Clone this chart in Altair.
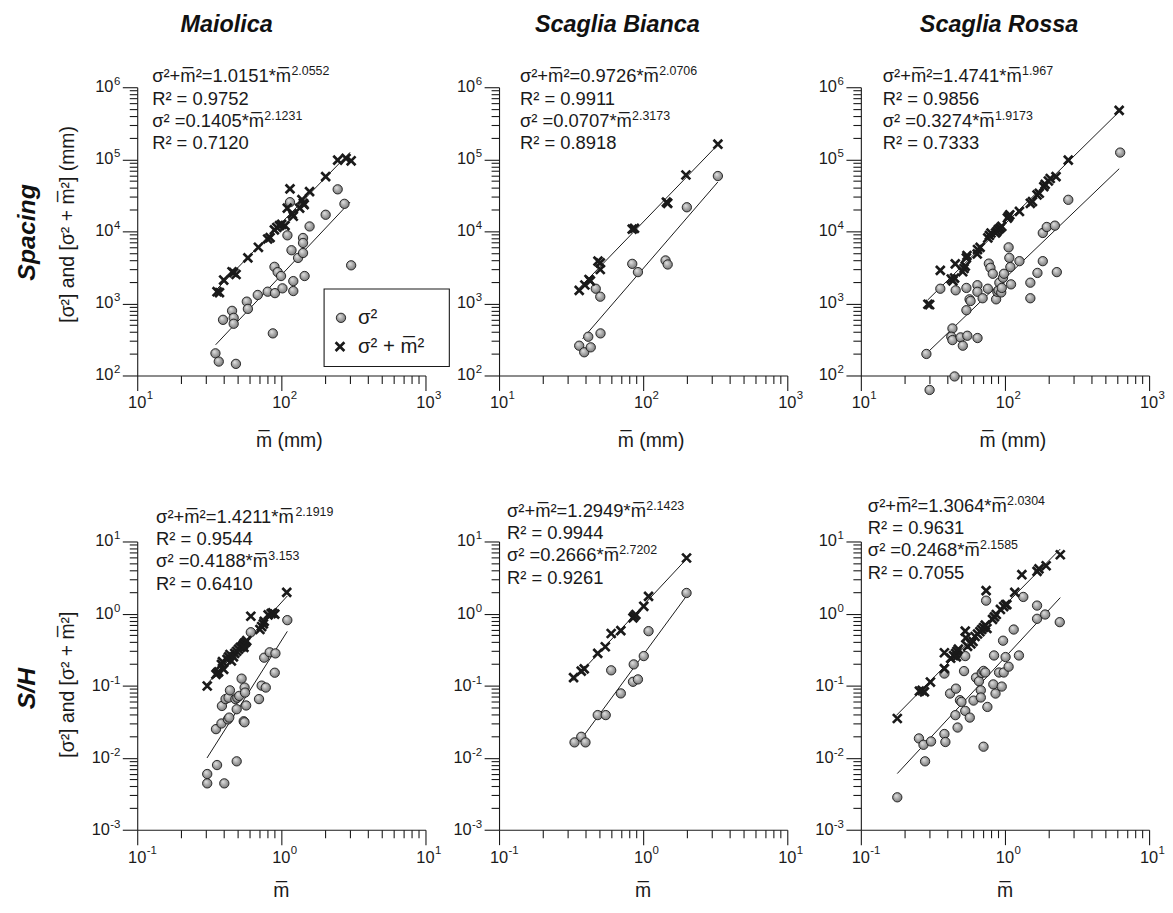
import altair as alt
import pandas as pd

FONT = "Liberation Sans"
INK = "#1a1a1a"
MB = "m\u0305"

# ---------------- data ----------------
# Maiolica – spacing (mm)
p1_sig_m = [34.9, 36.8, 48.4, 39.4, 45.5, 46.7, 46.7, 57.6, 58.6, 68.6, 80.4, 89.6, 94.3, 99.5, 90.3, 101.8, 87.3, 110.2, 114.8, 117.6,
            121, 121, 130.6, 141.4, 141.4, 141.4, 145, 157, 203, 246, 274, 305]
p1_sig_v = [203, 156, 145, 592, 789, 631, 522, 1059, 840, 1310, 1455, 3220, 2720, 2400, 1390, 1620, 384, 8810, 25400, 5470,
            2040, 1486, 4280, 8090, 6900, 5010, 2400, 11700, 17000, 38300, 24100, 3380]
p1_tot_m = [35.8, 37.2, 39.8, 45.5, 46.7, 48.5, 58.6, 69.3, 80.4, 83.5, 89.5, 93, 97, 100.5, 106, 114.8, 110, 119, 121, 134,
            139, 142, 144, 157, 203, 246, 281, 305]
p1_tot_v = [1455, 1410, 2110, 2750, 2680, 2520, 4285, 6010, 7830, 8200, 10500, 11300, 12000, 12500, 12000, 38800, 21000, 17400, 16200, 21000,
            27500, 24500, 23500, 35600, 57400, 97500, 103000, 95300]

# Scaglia Bianca – spacing (mm)
p2_sig_m = [36, 39.0, 41.6, 43.3, 50.6, 46.9, 50.4, 84, 92, 143, 148, 201, 330]
p2_sig_v = [259, 210, 345, 246, 384, 1600, 1240, 3540, 2720, 3950, 3470, 21600, 58600]
p2_tot_m = [36, 39.4, 42.1, 43, 48.6, 50.4, 50.4, 84, 87, 145, 148, 198, 330]
p2_tot_v = [1520, 1800, 2150, 2050, 3860, 3660, 2960, 10760, 11000, 25400, 24500, 60500, 162000]

# Scaglia Rossa – spacing (mm)
p3_sig_m = [28.5, 30, 35.6, 44.7, 43.2, 42.4, 43.2, 45.5, 49.2, 51, 54, 54.8, 54, 56.8, 57.7, 64.4, 64.4, 64.5, 70, 77.3,
            79.3, 76.1, 82.3, 86.8, 88.5, 90.2, 91.4, 94.2, 95, 96.9, 98.4, 106, 107.2, 109, 110.2, 126, 150, 150, 168, 183,
            183, 195, 222, 229, 275, 630]
p3_sig_v = [199, 63, 1600, 97, 449, 345, 310, 1520, 338, 259, 1640, 356, 805, 1140, 1080, 1790, 1450, 331, 1180, 3570,
            3120, 1600, 2580, 1140, 1450, 1520, 1940, 1420, 1640, 2270, 2580, 6000, 4290, 3200, 1840, 3860, 1940, 1180, 2650, 3860,
            9500, 11500, 12000, 2720, 27400, 124000]
p3_tot_m = [29.2, 30, 35.6, 42.4, 43.5, 44.7, 45.2, 50.9, 52, 53.0, 54.0, 54.5, 64.2, 64.5, 67.2, 76, 78, 80, 86, 88,
            90, 92.5, 95, 104, 106, 108, 126, 150, 155, 167, 173, 186, 190, 200, 206, 226, 275, 620]
p3_tot_v = [975, 960, 2870, 2180, 2060, 2250, 3540, 2750, 3050, 3290, 4290, 4620, 4860, 5590, 6000, 8100, 8800, 9500, 9500, 10000,
            10600, 11100, 11700, 15300, 16100, 17000, 18900, 24500, 25900, 32000, 33800, 41800, 44800, 50000, 54200, 57400, 97500, 477000]

# Maiolica – S/H
p4_sig_m = [0.306, 0.306, 0.358, 0.402, 0.49, 0.352, 0.384, 0.426, 0.435, 0.387, 0.41, 0.43, 0.44, 0.48, 0.495, 0.51, 0.49, 0.53, 0.556, 0.56,
            0.57, 0.548, 0.555, 0.614, 0.70, 0.73, 0.78, 0.76, 0.83, 0.91, 0.90, 1.10]
p4_sig_v = [0.00593, 0.0044, 0.0079, 0.0044, 0.0089, 0.0249, 0.0298, 0.034, 0.036, 0.0522, 0.065, 0.068, 0.086, 0.065, 0.068, 0.072, 0.047, 0.125, 0.094, 0.080,
            0.053, 0.032, 0.031, 0.55, 0.065, 0.1, 0.094, 0.244, 0.29, 0.28, 0.151, 0.81]
p4_tot_m = [0.306, 0.352, 0.36, 0.367, 0.384, 0.39, 0.398, 0.42, 0.43, 0.44, 0.45, 0.465, 0.475, 0.49, 0.505, 0.52, 0.535, 0.545, 0.555, 0.565,
            0.575, 0.55, 0.614, 0.71, 0.73, 0.75, 0.76, 0.81, 0.85, 0.87, 0.90, 1.09]
p4_tot_v = [0.0987, 0.143, 0.15, 0.155, 0.197, 0.215, 0.168, 0.231, 0.25, 0.27, 0.22, 0.25, 0.28, 0.30, 0.32, 0.34, 0.35, 0.37, 0.39, 0.40,
            0.42, 0.34, 0.918, 0.60, 0.66, 0.72, 0.78, 0.96, 1.0, 1.02, 0.98, 1.97]

# Scaglia Bianca – S/H
p5_sig_m = [0.334, 0.372, 0.398, 0.484, 0.55, 0.70, 0.60, 0.85, 0.92, 0.86, 1.01, 1.09, 2.0]
p5_sig_v = [0.0163, 0.0195, 0.0163, 0.039, 0.039, 0.078, 0.163, 0.113, 0.122, 0.197, 0.257, 0.57, 1.93]
p5_tot_m = [0.329, 0.372, 0.39, 0.484, 0.546, 0.60, 0.70, 0.85, 0.87, 0.89, 1.01, 1.09, 2.0]
p5_tot_v = [0.129, 0.159, 0.171, 0.28, 0.346, 0.528, 0.58, 0.87, 0.92, 0.97, 1.26, 1.73, 5.9]

# Scaglia Rossa – S/H
p6_sig_m = [0.179, 0.253, 0.272, 0.279, 0.307, 0.38, 0.386, 0.38, 0.416, 0.457, 0.453, 0.469, 0.487, 0.499, 0.53, 0.52, 0.53, 0.57, 0.605, 0.63,
            0.66, 0.69, 0.71, 0.73, 0.68, 0.68, 0.755, 0.71, 0.74, 0.84, 0.83, 0.86, 0.91, 0.95, 0.97, 0.98, 1.01, 1.06, 1.15, 1.25,
            1.34, 1.67, 1.67, 1.9, 2.4]
p6_sig_v = [0.00282, 0.0185, 0.0151, 0.0089, 0.0168, 0.0213, 0.0165, 0.147, 0.0776, 0.0908, 0.0389, 0.0262, 0.0627, 0.0594, 0.257, 0.159, 0.0446, 0.036, 0.062, 0.129,
            0.115, 0.15, 0.16, 0.152, 0.0861, 0.0684, 0.0506, 0.0142, 1.51, 0.262, 0.104, 0.0776, 0.152, 0.097, 0.42, 0.152, 0.249, 0.183, 0.60, 0.262,
            1.70, 1.29, 0.845, 0.97, 0.76]
p6_tot_m = [0.179, 0.255, 0.266, 0.276, 0.304, 0.38, 0.38, 0.42, 0.44, 0.455, 0.465, 0.475, 0.46, 0.53, 0.535, 0.55, 0.58, 0.60, 0.62, 0.645,
            0.67, 0.69, 0.71, 0.73, 0.75, 0.74, 0.82, 0.845, 0.87, 0.93, 0.98, 1.01, 1.03, 1.17, 1.31, 1.67, 1.72, 1.93, 2.42]
p6_tot_v = [0.035, 0.084, 0.086, 0.082, 0.112, 0.172, 0.286, 0.24, 0.26, 0.28, 0.30, 0.32, 0.25, 0.57, 0.46, 0.35, 0.38, 0.41, 0.48, 0.52,
            0.56, 0.60, 0.64, 0.69, 0.62, 2.08, 0.83, 0.90, 0.97, 1.14, 1.25, 1.33, 1.33, 1.97, 3.46, 3.85, 4.16, 4.6, 6.55]

# fitted power laws (coefficients printed in the figure)
tot_a = ["1.0151", "0.9726", "1.4741", "1.4211", "1.2949", "1.3064"]
tot_b = ["2.0552", "2.0706", "1.967", "2.1919", "2.1423", "2.0304"]
tot_r2 = ["0.9752", "0.9911", "0.9856", "0.9544", "0.9944", "0.9631"]
sig_a = ["0.1405", "0.0707", "0.3274", "0.4188", "0.2666", "0.2468"]
sig_b = ["2.1231", "2.3173", "1.9173", "3.153", "2.7202", "2.1585"]
sig_r2 = ["0.7120", "0.8918", "0.7333", "0.6410", "0.9261", "0.7055"]
# x-extent of each fitted line
tot_x = [[35, 300], [36, 330], [29, 620], [0.305, 1.1], [0.325, 2.0], [0.176, 2.42]]
sig_x = [[35, 300], [38, 330], [28.5, 620], [0.305, 1.1], [0.37, 2.0], [0.179, 2.42]]

# axis decades
top_x_decades = [10, 100, 1000]
top_y_decades = [100, 1000, 10000, 100000, 1000000]
bot_x_decades = [0.1, 1, 10]
bot_y_decades = [0.001, 0.01, 0.1, 1, 10]

columns = ["Maiolica", "Scaglia Bianca", "Scaglia Rossa"]
rows = ["Spacing", "S/H"]
ytitles = ["[\u03c3\u00b2]  and [\u03c3\u00b2 + " + MB + "\u00b2]  (mm)", "[\u03c3\u00b2] and [\u03c3\u00b2 + " + MB + "\u00b2]"]
xtitles = [MB + " (mm)", MB]
legend_labels = ["\u03c3\u00b2", "\u03c3\u00b2 + " + MB + "\u00b2"]

sig_m = [p1_sig_m, p2_sig_m, p3_sig_m, p4_sig_m, p5_sig_m, p6_sig_m]
sig_v = [p1_sig_v, p2_sig_v, p3_sig_v, p4_sig_v, p5_sig_v, p6_sig_v]
tot_m = [p1_tot_m, p2_tot_m, p3_tot_m, p4_tot_m, p5_tot_m, p6_tot_m]
tot_v = [p1_tot_v, p2_tot_v, p3_tot_v, p4_tot_v, p5_tot_v, p6_tot_v]

# ---------------- styling ----------------
W, H = 290, 290
EQ_FS, EXP_FS = 18.5, 12.5
EQ_POS = [(15, -5), (21, -5), (22, -5), (19, -19), (8, -25), (7, -30)]
LINE_H = 22.5
LAB_FS, LAB_EXP_FS = 16.5, 11.5

AW = {'0': .556, '1': .556, '2': .556, '3': .556, '4': .556, '5': .556, '6': .556, '7': .556, '8': .556, '9': .556,
      '.': .278, '*': .389, '+': .584, '=': .584, ' ': .278, 'R': .722, 'm': .833, '\u03c3': .6, '\u00b2': .333, '\u0305': 0}


def tw(s, fs):
    return sum(AW.get(c, .556) for c in s) * fs


def tick_vals(e0, e1):
    vals = []
    for e in range(e0, e1):
        for k in range(1, 10):
            vals.append(round(k * 10.0 ** e, 10))
    vals.append(10.0 ** e1)
    return vals


DECADE = "abs(log(datum.value)/LN10 - round(log(datum.value)/LN10)) < 0.01"


def make_axis(e0, e1):
    return alt.Axis(values=tick_vals(e0, e1), labels=False, title=None, grid=False,
                    tickSize={"condition": {"test": DECADE, "value": 15}, "value": 8},
                    tickColor=INK, tickWidth=1.1, domainColor=INK, domainWidth=1.1)


GRAD = {"gradient": "radial", "x1": 0.35, "y1": 0.3, "r1": 0, "x2": 0.5, "y2": 0.5, "r2": 0.6,
        "stops": [{"offset": 0, "color": "#e6e6e6"}, {"offset": 1, "color": "#6a6a6a"}]}
CROSS = "M-1,-1L1,1M-1,1L1,-1"
DOT_SIZE = 88
EXPONENT = "'' + round(log(datum.d)/LN10)"


def txt(s, x, y, fs, **kw):
    props = dict(font=FONT, fontSize=fs, color=INK)
    props.update(kw)
    return alt.Chart(pd.DataFrame({"t": [s]})).mark_text(**props).encode(
        x=alt.value(x), y=alt.value(y), text="t:N")


def panel(i):
    top = i < 3
    xdom = [10, 1000] if top else [0.1, 10]
    ydom = [100, 1e6] if top else [1e-3, 10]
    xa = make_axis(1, 3) if top else make_axis(-1, 1)
    ya = make_axis(2, 6) if top else make_axis(-3, 1)
    xs = alt.Scale(type="log", domain=xdom, nice=False)
    ys = alt.Scale(type="log", domain=ydom, nice=False)
    X = alt.X("m:Q", scale=xs, axis=xa)
    Y = alt.Y("v:Q", scale=ys, axis=ya)

    sig = pd.DataFrame({"m": sig_m[i], "v": sig_v[i]})
    tot = pd.DataFrame({"m": tot_m[i], "v": tot_v[i]})
    ta, tb, sa, sb = float(tot_a[i]), float(tot_b[i]), float(sig_a[i]), float(sig_b[i])
    ltot = pd.DataFrame({"m": tot_x[i], "v": [ta * x ** tb for x in tot_x[i]]})
    lsig = pd.DataFrame({"m": sig_x[i], "v": [sa * x ** sb for x in sig_x[i]]})

    layers = [
        alt.Chart(ltot).mark_line(color=INK, strokeWidth=1).encode(x=X, y=Y),
        alt.Chart(lsig).mark_line(color=INK, strokeWidth=1).encode(x=X, y=Y),
        alt.Chart(sig).mark_point(shape="circle", filled=True, fill=GRAD, stroke=INK, strokeWidth=0.9,
                                  size=DOT_SIZE, opacity=1).encode(x=X, y=Y),
        alt.Chart(tot).mark_point(shape=CROSS, filled=False, stroke=INK, strokeWidth=2.7,
                                  size=78, opacity=1).encode(x=X, y=Y),
    ]

    # tick labels 10^k with real superscripts
    xd = pd.DataFrame({"d": top_x_decades if top else bot_x_decades})
    yd = pd.DataFrame({"d": top_y_decades if top else bot_y_decades})
    XL = alt.X("d:Q", scale=xs, axis=xa)
    YL = alt.Y("d:Q", scale=ys, axis=ya)
    lab = dict(font=FONT, color=INK)
    layers.append(alt.Chart(xd).mark_text(text="10", align="center", baseline="middle", fontSize=LAB_FS, **lab).encode(
        x=XL, y=alt.value(H + 28)))
    layers.append(alt.Chart(xd).transform_calculate(e=EXPONENT).mark_text(
        align="left", baseline="middle", fontSize=LAB_EXP_FS, dx=9.5, **lab).encode(
        x=XL, y=alt.value(H + 21), text="e:N"))
    layers.append(alt.Chart(yd).transform_filter("datum.d >= 1").mark_text(
        text="10", align="right", baseline="middle", fontSize=LAB_FS, **lab).encode(x=alt.value(-24), y=YL))
    layers.append(alt.Chart(yd).transform_filter("datum.d < 1").mark_text(
        text="10", align="right", baseline="middle", fontSize=LAB_FS, **lab).encode(x=alt.value(-27.5), y=YL))
    layers.append(alt.Chart(yd).transform_calculate(e=EXPONENT).mark_text(
        align="right", baseline="middle", fontSize=LAB_EXP_FS, dy=-5, **lab).encode(
        x=alt.value(-17), y=YL, text="e:N"))

    # equations
    ex, ey = EQ_POS[i]
    l1 = "\u03c3\u00b2+" + MB + "\u00b2=" + tot_a[i] + "*" + MB
    l2 = "R\u00b2 = " + tot_r2[i]
    l3 = "\u03c3\u00b2 =" + sig_a[i] + "*" + MB
    l4 = "R\u00b2 = " + sig_r2[i]
    for k, (s, e) in enumerate([(l1, tot_b[i]), (l2, None), (l3, sig_b[i]), (l4, None)]):
        yy = ey + k * LINE_H
        layers.append(txt(s, ex, yy, EQ_FS, align="left", baseline="alphabetic"))
        if e:
            layers.append(txt(e, ex + tw(s, EQ_FS) + 0.5, yy - 7, EXP_FS, align="left", baseline="alphabetic"))

    # x title
    if top:
        layers.append(txt(xtitles[0], 153, 356, 19.5, align="center", baseline="middle"))
    else:
        layers.append(txt(xtitles[1], 145, 352, 19.5, align="center", baseline="middle"))

    # column titles
    if top:
        cx = [90, 119, 139][i]
        layers.append(txt(columns[i], cx, -63, 23.5, align="center", baseline="middle",
                          fontStyle="italic", fontWeight="bold", color="#111"))

    # left column: row title + y title
    if i % 3 == 0:
        r = i // 3
        layers.append(txt(rows[r], -111, 146 if r == 0 else 148, 25, align="center", baseline="middle",
                          angle=270, fontStyle="italic", fontWeight="bold", color="#111"))
        layers.append(txt(ytitles[r], -70, 138 if r == 0 else 144, 19.5, align="center", baseline="middle",
                          angle=270))

    if i == 0:
        # legend box
        layers.append(alt.Chart(pd.DataFrame({"a": [0]})).mark_rect(fill="white", stroke=INK, strokeWidth=1.1).encode(
            x=alt.value(188), x2=alt.value(314), y=alt.value(203), y2=alt.value(281)))
        layers.append(alt.Chart(pd.DataFrame({"a": [0]})).mark_point(
            shape="circle", filled=True, fill=GRAD, stroke=INK, strokeWidth=0.9, size=DOT_SIZE, opacity=1).encode(
            x=alt.value(205), y=alt.value(232)))
        layers.append(alt.Chart(pd.DataFrame({"a": [0]})).mark_point(
            shape=CROSS, filled=False, stroke=INK, strokeWidth=2.7, size=78, opacity=1).encode(
            x=alt.value(204), y=alt.value(261)))
        layers.append(txt(legend_labels[0], 222, 232, 20.5, align="left", baseline="middle"))
        layers.append(txt(legend_labels[1], 222, 261, 20.5, align="left", baseline="middle"))
        # invisible anchor fixing the page origin
        layers.append(alt.Chart(pd.DataFrame({"a": [0]})).mark_rect(opacity=0).encode(
            x=alt.value(-130), x2=alt.value(-129), y=alt.value(-77), y2=alt.value(-76)))

    return alt.layer(*layers).properties(width=W, height=H)


chart = alt.concat(*[panel(i) for i in range(6)], columns=3,
                   spacing={"row": 167, "column": 74}, bounds="flush").properties(
    padding=0, background="white").configure_view(strokeWidth=0)

chart.save("out.html", embed_options={"renderer": "svg", "actions": False})
